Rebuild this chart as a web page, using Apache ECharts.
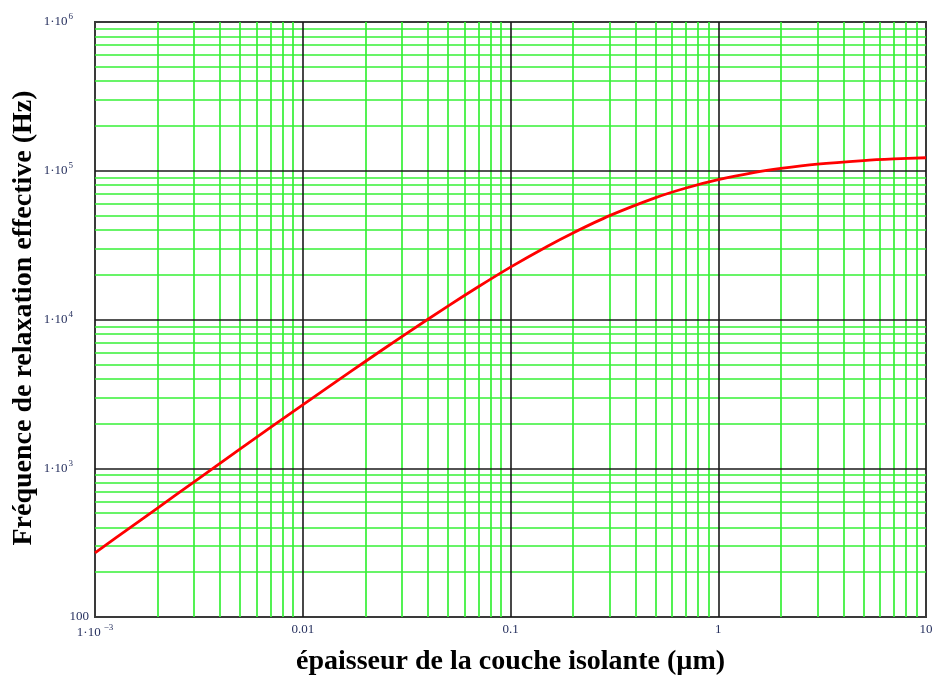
<!DOCTYPE html>
<html>
<head>
<meta charset="utf-8">
<title>Fréquence de relaxation effective</title>
<script src="https://cdn.jsdelivr.net/npm/echarts@6/dist/echarts.min.js"></script>
<style>
  html, body { margin: 0; padding: 0; background: #ffffff; }
  #chart { width: 937px; height: 675px; }
</style>
</head>
<body>
<div id="chart"></div>
<script>
// Insulating layer thickness (µm) and effective relaxation frequency (Hz)
const thickness = [0.001, 0.0015, 0.002, 0.003, 0.005, 0.007, 0.01, 0.015, 0.02, 0.03,
                   0.05, 0.07, 0.1, 0.15, 0.2, 0.3, 0.5, 0.7, 1, 1.5, 2, 3, 5, 7, 10];
const frequency = [270, 405, 540, 810, 1350, 1880, 2670, 3960, 5220, 7680,
                   12300, 16600, 22500, 31000, 38200, 49900, 66000, 76600, 87100, 97500,
                   103600, 110700, 117000, 120000, 122300];

// Decade grid lines (black) and intermediate grid lines (green)
const xMajor = [0.001, 0.01, 0.1, 1, 10];
const yMajor = [100, 1000, 10000, 100000, 1000000];
const minorSteps = [2, 3, 4, 5, 6, 7, 8, 9];

// Tick labels: [mantissa text, exponent text]
const xTickLabels = [['1·10', '−3'], ['0.01', ''], ['0.1', ''], ['1', ''], ['10', '']];
const yTickLabels = [['100', ''], ['1·10', '3'], ['1·10', '4'], ['1·10', '5'], ['1·10', '6']];

const xTitle = 'épaisseur de la couche isolante (µm)';
const yTitle = 'Fréquence de relaxation effective (Hz)';

const xMin = xMajor[0], xMax = xMajor[xMajor.length - 1];
const yMin = yMajor[0], yMax = yMajor[yMajor.length - 1];

function minorValues(majors) {
  const out = [];
  for (let i = 0; i < majors.length - 1; i++) {
    minorSteps.forEach(function (m) { out.push(+(majors[i] * m).toPrecision(6)); });
  }
  return out;
}

function decadeIndex(value, majors) {
  const e = Math.round(Math.log10(value));
  return majors.findIndex(function (v) { return Math.round(Math.log10(v)) === e; });
}

// Full-height / full-width segments expressed in data coordinates
function vLines(values) {
  return values.map(function (v) { return [{ coord: [v, yMin] }, { coord: [v, yMax] }]; });
}
function hLines(values) {
  return values.map(function (v) { return [{ coord: [xMin, v] }, { coord: [xMax, v] }]; });
}

const labelColor = '#26305e';
const serif = '"Liberation Serif", "DejaVu Serif", serif';

const minorLines = vLines(minorValues(xMajor)).concat(hLines(minorValues(yMajor)));
const majorLines = vLines(xMajor.slice(1, -1)).concat(hLines(yMajor.slice(1, -1)));

const chart = echarts.init(document.getElementById('chart'), null, { renderer: 'canvas' });

chart.setOption({
  animation: false,
  backgroundColor: '#ffffff',
  grid: {
    left: 95, right: 11, top: 22, bottom: 58,
    outerBoundsMode: 'none',
    containLabel: false,
    show: true, borderColor: '#3a3a3a', borderWidth: 2, backgroundColor: '#ffffff'
  },
  // Vertical axis title, placed beside the plot
  graphic: [{
    type: 'text',
    x: 24, y: 318,
    rotation: Math.PI / 2,
    silent: true,
    style: {
      text: yTitle,
      fontFamily: serif, fontWeight: 'bold', fontSize: 28, fill: '#000000',
      textAlign: 'center', textVerticalAlign: 'middle'
    }
  }],
  xAxis: {
    type: 'log', logBase: 10, min: xMin, max: xMax,
    name: xTitle, nameLocation: 'middle', nameGap: 31,
    nameTextStyle: { fontFamily: serif, fontWeight: 'bold', fontSize: 28, color: '#000000' },
    axisLine: { show: false },
    axisTick: { show: false },
    splitLine: { show: false },
    minorTick: { show: false },
    axisLabel: {
      margin: 6,
      fontFamily: serif,
      formatter: function (v) {
        const t = xTickLabels[decadeIndex(v, xMajor)];
        if (!t) return '';
        return t[1] ? '{m|' + t[0] + '}{s|' + t[1] + '}' : '{m|' + t[0] + '}';
      },
      rich: {
        m: { fontFamily: serif, fontSize: 13, color: labelColor },
        s: { fontFamily: serif, fontSize: 9, color: labelColor, verticalAlign: 'top', padding: [0, 0, 10, 3] }
      }
    }
  },
  yAxis: {
    type: 'log', logBase: 10, min: yMin, max: yMax,
    axisLine: { show: false },
    axisTick: { show: false },
    splitLine: { show: false },
    minorTick: { show: false },
    axisLabel: {
      margin: 6,
      fontFamily: serif,
      formatter: function (v) {
        const t = yTickLabels[decadeIndex(v, yMajor)];
        if (!t) return '';
        return t[1] ? '{m|' + t[0] + '}{s|' + t[1] + '}{g|}' : '{m|' + t[0] + '}';
      },
      rich: {
        m: { fontFamily: serif, fontSize: 13, color: labelColor },
        s: { fontFamily: serif, fontSize: 9, color: labelColor, verticalAlign: 'top', padding: [0, 0, 10, 1] },
        g: { width: 16 }
      }
    }
  },
  series: [
    {
      name: 'minor grid', type: 'line', data: [], silent: true, z: 1,
      markLine: {
        silent: true, symbol: 'none', animation: false,
        label: { show: false },
        lineStyle: { color: '#36f036', width: 1.7, type: 'solid' },
        emphasis: { disabled: true },
        data: minorLines
      }
    },
    {
      name: 'major grid', type: 'line', data: [], silent: true, z: 2,
      markLine: {
        silent: true, symbol: 'none', animation: false,
        label: { show: false },
        lineStyle: { color: '#1a1a1a', width: 1.6, type: 'solid' },
        emphasis: { disabled: true },
        data: majorLines
      }
    },
    {
      name: 'f_eff', type: 'line', z: 5,
      data: thickness.map(function (d, i) { return [d, frequency[i]]; }),
      smooth: 0.3,
      showSymbol: false,
      lineStyle: { color: '#ff0000', width: 2.8 },
      clip: true
    }
  ]
});
</script>
</body>
</html>
